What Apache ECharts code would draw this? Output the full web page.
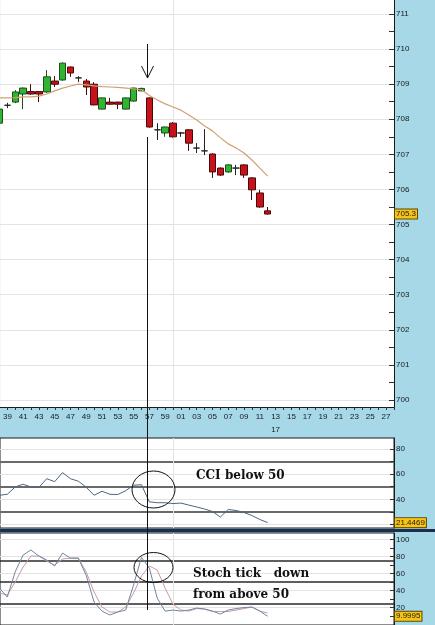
<!DOCTYPE html>
<html>
<head>
<meta charset="utf-8">
<script src="https://cdn.jsdelivr.net/npm/echarts@6/dist/echarts.min.js"></script>
<style>
html, body { margin: 0; padding: 0; background: #a6d8e7; }
#chart { width: 435px; height: 625px; }
</style>
</head>
<body>
<div id="chart"></div>
<script>
// minute of the bar (60.. = 00.. of the next hour)
const minutes = [38,39,40,41,42,43,44,45,46,47,48,49,50,51,52,53,54,55,56,57,58,59,60,61,62,63,64,65,66,67,68,69,70,71,72];

const openP  = [707.89,708.40,708.49,708.72,708.79,708.79,708.78,709.09,709.12,709.49,709.18,709.09,709.00,708.29,708.49,708.49,708.29,708.52,708.81,708.61,707.70,707.61,707.89,707.61,707.70,707.18,707.10,707.01,706.61,706.50,706.61,706.70,706.33,705.90,705.39];
const closeP = [708.29,708.40,708.78,708.89,708.72,708.72,709.21,709.00,709.60,709.32,709.18,708.92,708.41,708.61,708.43,708.43,708.61,708.89,708.88,707.78,707.70,707.78,707.50,707.61,707.32,707.18,707.10,706.50,706.41,706.70,706.61,706.41,705.99,705.50,705.30];
const lowP   = [707.85,708.32,708.46,708.29,708.70,708.49,708.75,708.92,709.10,709.21,709.06,708.69,708.40,708.28,708.42,708.29,708.28,708.50,708.80,707.76,707.41,707.50,707.48,707.50,707.10,707.04,706.98,706.33,706.39,706.48,706.41,706.33,705.70,705.48,705.28];
const highP  = [708.31,708.47,708.83,708.91,709.00,708.80,709.40,709.23,709.62,709.50,709.23,709.15,709.06,708.62,708.61,708.50,708.62,708.90,708.90,708.62,707.89,707.79,707.92,707.64,707.72,707.32,707.72,707.03,706.63,706.72,706.70,706.72,706.35,705.99,705.50];
const maLine = [708.61,708.61,708.62,708.64,708.64,708.66,708.72,708.81,708.89,708.95,709.00,708.98,708.95,708.93,708.92,708.91,708.89,708.87,708.84,708.68,708.55,708.44,708.35,708.26,708.12,707.98,707.81,707.67,707.47,707.30,707.18,707.04,706.84,706.61,706.38];

const cci = [43.2,44.0,49.8,52.0,49.8,49.4,56.4,54.0,61.2,56.4,54.4,49.6,43.2,46.4,44.0,43.8,46.8,51.2,51.6,38.0,37.3,37.3,36.6,37.0,35.4,33.9,32.3,30.3,25.9,31.9,31.1,29.5,27.1,24.0,21.4469];
const stochK = [43,32.5,62,81.6,87.5,80.5,75.8,68.8,84,78,78,58,26.7,16,11.5,15,17.3,46.5,79,66.4,31.3,16,17.3,16.1,17.3,19.6,18.5,16.1,12.6,17.3,19,20.2,20.8,16.1,9.9995];
const stochD = [37.2,34.9,50,67.6,80.5,80.5,74.6,69.9,77,78,78,61.8,38.4,20.8,15,15,20.8,37.2,57,68.8,64.1,43,24.3,17.3,16.1,19,18.5,15.6,15.6,15.6,17.3,19,20.8,16.1,13.8];

// axis labels
const timeLabels = [39,41,43,45,47,49,51,53,55,57,59,61,63,65,67,69,71,73,75,77,79,81,83,85,87];
const hourMark = { at: 73, text: '17' };
const priceLabels = [700,701,702,703,704,705,706,707,708,709,710,711];
const cciLabels = [20,40,60,80];
const cciLevels = [30,50,70];
const stochLabels = [20,40,60,80,100];
const stochLevels = [25,50,75];

const xMin = 38.075, xMax = 88.01;

const timeTicks = [];
for (let m = 38; m <= 88; m++) timeTicks.push(m);
const priceTicks = [];
for (let p = 700; p <= 711.01; p += 0.5) priceTicks.push(p);

const labelFont = { fontSize: 8, color: '#1a1a1a', fontFamily: 'Liberation Sans, Arial, sans-serif' };
const pairs = (vals) => minutes.map((m, i) => [m, vals[i]]);
const pad = (v) => String(v % 60).padStart(2, '0');

function hiddenAxis (gridIndex, min, max, lines, lineStyle, extra) {
    return Object.assign({
        type: 'value', gridIndex: gridIndex, min: min, max: max,
        axisLine: { show: false },
        axisTick: { show: false, customValues: lines },
        axisLabel: { show: false },
        splitLine: { show: true, lineStyle: lineStyle }
    }, extra || {});
}

function rightAxis (gridIndex, min, max, ticks, labels, tickLen) {
    return {
        type: 'value', gridIndex: gridIndex, position: 'right', min: min, max: max,
        axisLine: { show: true, lineStyle: { color: '#1a1a1a' } },
        axisTick: { show: true, inside: true, length: tickLen, customValues: ticks, lineStyle: { color: '#333' } },
        axisLabel: Object.assign({ customValues: labels, margin: 2 }, labelFont),
        splitLine: { show: false }
    };
}

// yellow box with the last value, on the right axis
function lastLabel (value) {
    return {
        silent: true,
        symbol: 'none',
        lineStyle: { color: 'rgba(0,0,0,0)', width: 1 },
        label: {
            show: true, position: 'end', distance: 1,
            formatter: String(value),
            backgroundColor: '#f7c414', borderColor: '#5a4a00', borderWidth: 1,
            padding: [1, 1, 0, 1],
            fontSize: 8, color: '#1a1a1a', fontFamily: 'Liberation Sans, Arial, sans-serif'
        },
        data: [{ yAxis: value }]
    };
}

const lightGrid = { color: '#e3e3e3', width: 1 };

const chart = echarts.init(document.getElementById('chart'));

chart.setOption({
    animation: false,
    backgroundColor: '#a6d8e7',
    grid: [
        { left: 0, right: 41, top: 0, height: 407, show: true, backgroundColor: '#fff', borderWidth: 0 },
        { left: 0, right: 41, top: 438, height: 90, show: true, backgroundColor: '#fff', borderColor: '#1a1a1a', borderWidth: 1 },
        { left: 0, right: 41, top: 533, height: 94, show: true, backgroundColor: '#fff', borderColor: '#1a1a1a', borderWidth: 1 }
    ],
    xAxis: [
        {
            type: 'value', gridIndex: 0, min: xMin, max: xMax,
            axisLine: { show: true, lineStyle: { color: '#1a1a1a' } },
            axisTick: { show: true, length: 3, customValues: timeTicks, lineStyle: { color: '#333' } },
            axisLabel: Object.assign({
                customValues: timeLabels, margin: 3, lineHeight: 13,
                formatter: (v) => v === hourMark.at ? pad(v) + '\n' + hourMark.text : pad(v)
            }, labelFont),
            splitLine: { show: false }
        },
        hiddenAxis(0, xMin, xMax, [60], lightGrid, { position: 'top' }),
        hiddenAxis(1, xMin, xMax, [60], lightGrid),
        hiddenAxis(2, xMin, xMax, [60], lightGrid)
    ],
    yAxis: [
        rightAxis(0, 699.8, 711.4, priceTicks, priceLabels, 5),
        hiddenAxis(0, 699.8, 711.4, priceLabels, lightGrid),
        rightAxis(1, 17.18, 88.75, [20,30,40,50,60,70,80], cciLabels, 4),
        hiddenAxis(1, 17.18, 88.75, cciLabels, lightGrid),
        hiddenAxis(1, 17.18, 88.75, cciLevels, { color: '#6a6a6a', width: 2 }),
        rightAxis(2, -0.2, 107.4, [10,20,30,40,50,60,70,80,90,100], stochLabels, 4),
        hiddenAxis(2, -0.2, 107.4, stochLabels, lightGrid),
        hiddenAxis(2, -0.2, 107.4, stochLevels, { color: '#2a2a2a', width: 1.5 })
    ],
    series: [
        {
            type: 'candlestick',
            xAxisIndex: 0, yAxisIndex: 0,
            dimensions: ['time', 'open', 'close', 'lowest', 'highest'],
            encode: { x: 'time', y: ['open', 'close', 'lowest', 'highest'] },
            data: minutes.map((m, i) => [m, openP[i], closeP[i], lowP[i], highP[i]]),
            barWidth: 7,
            itemStyle: {
                color: '#2fb52f', color0: '#c6121b',
                borderColor: '#1e4d1e', borderColor0: '#4a0808',
                borderColorDoji: '#222', borderWidth: 1
            },
            markLine: lastLabel(closeP[closeP.length - 1])
        },
        {
            type: 'line', xAxisIndex: 0, yAxisIndex: 0,
            data: pairs(maLine), symbol: 'none',
            lineStyle: { color: '#d0a172', width: 1.2 }
        },
        {
            type: 'line', xAxisIndex: 2, yAxisIndex: 2,
            data: pairs(cci), symbol: 'none',
            lineStyle: { color: '#4e6580', width: 1 },
            markLine: lastLabel(cci[cci.length - 1])
        },
        {
            type: 'line', xAxisIndex: 3, yAxisIndex: 5,
            data: pairs(stochD), symbol: 'none',
            lineStyle: { color: '#c99aa6', width: 1 }
        },
        {
            type: 'line', xAxisIndex: 3, yAxisIndex: 5,
            data: pairs(stochK), symbol: 'none',
            lineStyle: { color: '#7284a0', width: 1 },
            markLine: lastLabel(stochK[stochK.length - 1])
        }
    ],
    graphic: [
        // panel splitter
        { type: 'rect', z: 90, shape: { x: 0, y: 529, width: 435, height: 3 }, style: { fill: '#1d2d4d' } },
        // hand drawn annotations
        { type: 'line', z: 100, shape: { x1: 147.5, y1: 44, x2: 147.5, y2: 78 }, style: { stroke: '#111', lineWidth: 1 } },
        { type: 'polyline', z: 100, shape: { points: [[141.5, 66], [147.5, 78], [153.5, 66]] }, style: { stroke: '#111', fill: null, lineWidth: 1 } },
        { type: 'line', z: 100, shape: { x1: 147.5, y1: 137, x2: 147.5, y2: 610 }, style: { stroke: '#111', lineWidth: 1 } },
        { type: 'ellipse', z: 100, shape: { cx: 153.5, cy: 489.5, rx: 21.5, ry: 18.5 }, style: { fill: null, stroke: '#111', lineWidth: 1 } },
        { type: 'ellipse', z: 100, shape: { cx: 153.5, cy: 567.5, rx: 19.5, ry: 15 }, style: { fill: null, stroke: '#111', lineWidth: 1 } },
        { type: 'text', z: 100, x: 196, y: 475.5, style: { text: 'CCI below 50', font: 'bold 12px "DejaVu Serif"', fill: '#111', verticalAlign: 'middle' } },
        { type: 'text', z: 100, x: 193, y: 573.5, style: { text: 'Stoch tick   down', font: 'bold 12px "DejaVu Serif"', fill: '#111', verticalAlign: 'middle' } },
        { type: 'text', z: 100, x: 193, y: 594.5, style: { text: 'from above 50', font: 'bold 12px "DejaVu Serif"', fill: '#111', verticalAlign: 'middle' } }
    ]
});
</script>
</body>
</html>
